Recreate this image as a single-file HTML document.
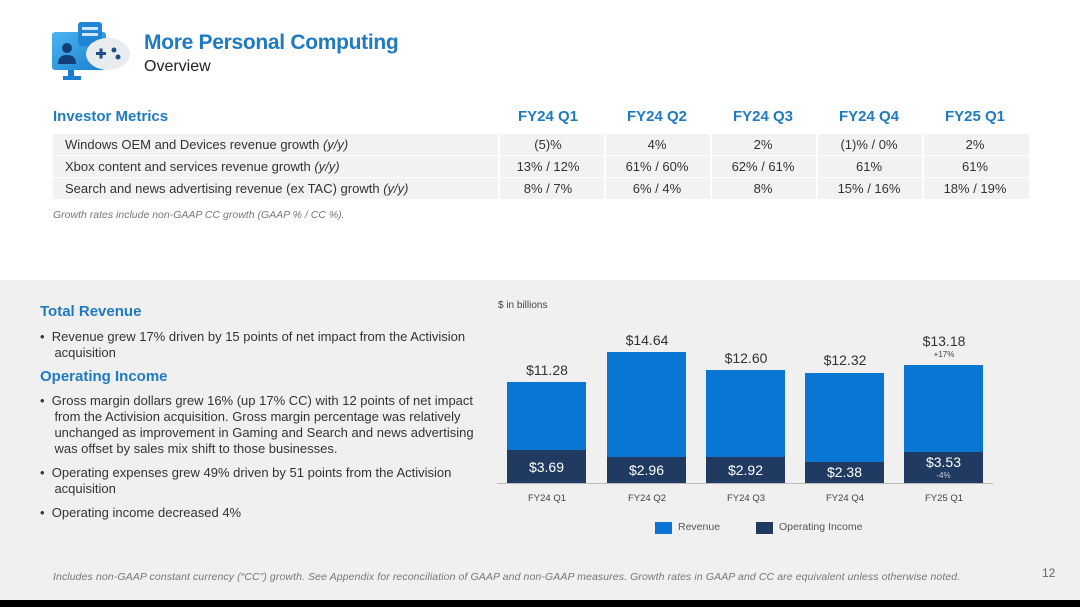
<!DOCTYPE html>
<html><head><meta charset="utf-8"><style>
*{margin:0;padding:0;box-sizing:border-box}
body{width:1080px;height:607px;position:relative;overflow:hidden;background:#fff;font-family:"Liberation Sans",sans-serif;color:#333}
.a{position:absolute;white-space:nowrap}
.blue{color:#1f7ac4}
.gray{position:absolute;left:0;top:280px;width:1080px;height:320px;background:#f0f0f0}
.blk{position:absolute;left:0;top:600px;width:1080px;height:7px;background:#000}
.row{position:absolute;left:53px;width:976px;height:21px;background:#f2f2f2;font-size:13px;line-height:21px}
.row span{position:absolute;text-align:center;width:104px}
.hdr span{position:absolute;text-align:center;width:104px}
.bt{font-size:13px;line-height:16px}
.bar{position:absolute;width:79px}
.rv{background:#0a76d4}
.oi{background:#213a62}
.vl{position:absolute;width:100px;text-align:center;font-size:14px;color:#333}
.ol{position:absolute;width:79px;text-align:center;font-size:14px;color:#fff}
.xl{position:absolute;width:100px;text-align:center;font-size:9.5px;color:#444}
</style></head><body>
<svg class="a" style="left:50px;top:20px" width="82" height="62" viewBox="0 0 82 62">
<defs><linearGradient id="g" x1="0" y1="0" x2="1" y2="1"><stop offset="0" stop-color="#4cb4ee"/><stop offset="1" stop-color="#1a7fd0"/></linearGradient></defs>
<rect x="2" y="12" width="54" height="38" rx="3" fill="url(#g)"/>
<rect x="18" y="50" width="6" height="7" fill="#1a7fd0"/><rect x="13" y="56" width="18" height="4" fill="#1a7fd0"/>
<rect x="28" y="2" width="24" height="24" rx="3" fill="#1f86d6"/>
<rect x="32" y="7" width="16" height="3" fill="#cfe7f8"/><rect x="32" y="13" width="16" height="3" fill="#cfe7f8"/>
<circle cx="17" cy="28" r="5" fill="#143f75"/><path d="M8 44 q0-9 9-9 q9 0 9 9z" fill="#143f75"/>
<ellipse cx="58" cy="34" rx="22" ry="16" fill="#e9ecef"/>
<rect x="46" y="32" width="10" height="3" fill="#1b4f85"/><rect x="49.5" y="28.5" width="3" height="10" fill="#1b4f85"/>
<circle cx="64" cy="30" r="2.5" fill="#1b4f85"/><circle cx="68" cy="37" r="2.5" fill="#1b4f85"/>
</svg>
<div class="a blue" style="left:144px;top:31px;font-size:21px;font-weight:bold;letter-spacing:-0.3px">More Personal Computing</div>
<div class="a" style="left:144px;top:58px;font-size:16px;color:#222">Overview</div>

<div class="a blue hdr" style="left:53px;top:108px;width:976px;height:20px;font-size:15px;font-weight:bold">
<span style="left:0;text-align:left;width:200px">Investor Metrics</span>
<span style="left:443px">FY24 Q1</span><span style="left:552px">FY24 Q2</span><span style="left:658px">FY24 Q3</span><span style="left:764px">FY24 Q4</span><span style="left:870px">FY25 Q1</span>
</div>
<div class="row" style="top:134px"><span style="left:12px;text-align:left;width:400px">Windows OEM and Devices revenue growth <i>(y/y)</i></span><span style="left:443px">(5)%</span><span style="left:552px">4%</span><span style="left:658px">2%</span><span style="left:764px">(1)% / 0%</span><span style="left:870px">2%</span></div>
<div class="row" style="top:156px"><span style="left:12px;text-align:left;width:400px">Xbox content and services revenue growth <i>(y/y)</i></span><span style="left:443px">13% / 12%</span><span style="left:552px">61% / 60%</span><span style="left:658px">62% / 61%</span><span style="left:764px">61%</span><span style="left:870px">61%</span></div>
<div class="row" style="top:178px"><span style="left:12px;text-align:left;width:400px">Search and news advertising revenue (ex TAC) growth <i>(y/y)</i></span><span style="left:443px">8% / 7%</span><span style="left:552px">6% / 4%</span><span style="left:658px">8%</span><span style="left:764px">15% / 16%</span><span style="left:870px">18% / 19%</span></div>
<div style="position:absolute;left:498px;top:134px;width:2px;height:65px;background:#fff"></div>
<div style="position:absolute;left:604px;top:134px;width:2px;height:65px;background:#fff"></div>
<div style="position:absolute;left:710px;top:134px;width:2px;height:65px;background:#fff"></div>
<div style="position:absolute;left:816px;top:134px;width:2px;height:65px;background:#fff"></div>
<div style="position:absolute;left:922px;top:134px;width:2px;height:65px;background:#fff"></div>
<div class="a" style="left:53px;top:209px;font-size:10.5px;font-style:italic;color:#777">Growth rates include non-GAAP CC growth (GAAP % / CC %).</div>

<div class="gray"></div>
<div class="a blue" style="left:40px;top:303px;font-size:15px;font-weight:bold">Total Revenue</div>
<div class="a bt" style="left:40px;top:329px">•&nbsp;&nbsp;Revenue grew 17% driven by 15 points of net impact from the Activision<br>&nbsp;&nbsp;&nbsp;&nbsp;acquisition</div>
<div class="a blue" style="left:40px;top:368px;font-size:15px;font-weight:bold">Operating Income</div>
<div class="a bt" style="left:40px;top:393px">•&nbsp;&nbsp;Gross margin dollars grew 16% (up 17% CC) with 12 points of net impact<br>&nbsp;&nbsp;&nbsp;&nbsp;from the Activision acquisition. Gross margin percentage was relatively<br>&nbsp;&nbsp;&nbsp;&nbsp;unchanged as improvement in Gaming and Search and news advertising<br>&nbsp;&nbsp;&nbsp;&nbsp;was offset by sales mix shift to those businesses.</div>
<div class="a bt" style="left:40px;top:465px">•&nbsp;&nbsp;Operating expenses grew 49% driven by 51 points from the Activision<br>&nbsp;&nbsp;&nbsp;&nbsp;acquisition</div>
<div class="a bt" style="left:40px;top:505px">•&nbsp;&nbsp;Operating income decreased 4%</div>

<div class="a" style="left:498px;top:300px;font-size:10px;color:#444">$ in billions</div>
<div class="bar rv" style="left:507px;top:382px;height:101px"></div><div class="bar oi" style="left:507px;top:450px;height:33px"></div>
<div class="bar rv" style="left:607px;top:352px;height:131px"></div><div class="bar oi" style="left:607px;top:457px;height:26px"></div>
<div class="bar rv" style="left:706px;top:370px;height:113px"></div><div class="bar oi" style="left:706px;top:457px;height:26px"></div>
<div class="bar rv" style="left:805px;top:373px;height:110px"></div><div class="bar oi" style="left:805px;top:462px;height:21px"></div>
<div class="bar rv" style="left:904px;top:365px;height:118px"></div><div class="bar oi" style="left:904px;top:452px;height:31px"></div>
<div style="position:absolute;left:497px;top:483px;width:496px;height:1px;background:#bbb"></div>
<div class="vl" style="left:497px;top:362px">$11.28</div>
<div class="vl" style="left:597px;top:332px">$14.64</div>
<div class="vl" style="left:696px;top:350px">$12.60</div>
<div class="vl" style="left:795px;top:352px">$12.32</div>
<div class="vl" style="left:894px;top:333px">$13.18</div>
<div class="xl" style="left:894px;top:350px;font-size:8px">+17%</div>
<div class="ol" style="left:507px;top:459px">$3.69</div>
<div class="ol" style="left:607px;top:462px">$2.96</div>
<div class="ol" style="left:706px;top:462px">$2.92</div>
<div class="ol" style="left:805px;top:464px">$2.38</div>
<div class="ol" style="left:904px;top:454px">$3.53</div>
<div class="ol" style="left:904px;top:471px;font-size:8px;color:#ccc">-4%</div>
<div class="xl" style="left:497px;top:493px">FY24 Q1</div>
<div class="xl" style="left:597px;top:493px">FY24 Q2</div>
<div class="xl" style="left:696px;top:493px">FY24 Q3</div>
<div class="xl" style="left:795px;top:493px">FY24 Q4</div>
<div class="xl" style="left:894px;top:493px">FY25 Q1</div>
<div style="position:absolute;left:655px;top:522px;width:17px;height:12px;background:#0a76d4"></div>
<div class="a" style="left:678px;top:521px;font-size:10.5px;color:#555">Revenue</div>
<div style="position:absolute;left:756px;top:522px;width:17px;height:12px;background:#213a62"></div>
<div class="a" style="left:779px;top:521px;font-size:10.5px;color:#555">Operating Income</div>

<div class="a" style="left:53px;top:571px;font-size:10.5px;font-style:italic;color:#777;letter-spacing:0.1px">Includes non-GAAP constant currency (“CC”) growth. See Appendix for reconciliation of GAAP and non-GAAP measures. Growth rates in GAAP and CC are equivalent unless otherwise noted.</div>
<div class="a" style="left:1042px;top:566px;font-size:12px;color:#666">12</div>
<div class="blk"></div>
</body></html>
